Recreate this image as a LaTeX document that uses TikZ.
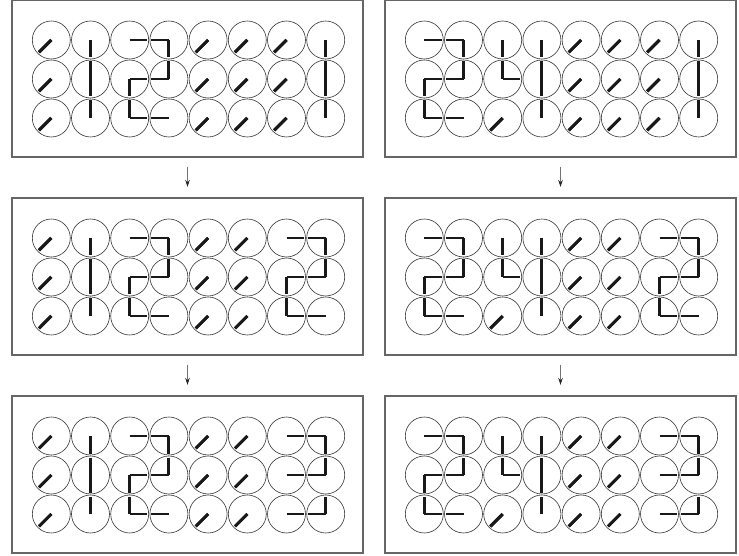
\documentclass[tikz,border=0pt]{standalone}
\usepackage{tikz}
\usetikzlibrary{arrows.meta, positioning, calc}
\tikzset{
  panel/.style={rectangle, draw=black!60, line width=1.1pt, outer sep=0pt, minimum width=351pt, minimum height=157pt, inner sep=0pt},
  clock/.style={draw=black!80, line width=0.6pt},
  hand/.style={draw=black!90, line width=2.9pt},
  arrow/.style={-{Stealth[length=7pt, width=4.5pt, color=black!85]}, draw=black!55, line width=0.8pt, shorten <=10pt, shorten >=11pt},
}
% one panel: 8 x 3 clocks, two hand angles per clock
\newcommand{\clockgrid}[2]{%
  \foreach \ha/\hb [count=\i from 0] in {#2} {
    \pgfmathtruncatemacro{\col}{mod(\i,8)}
    \pgfmathtruncatemacro{\row}{\i/8}
    \coordinate (#1c\i) at ($(#1.north west)+(39.3+39.2*\col,-40-39*\row)$);
    \draw[clock] (#1c\i) circle[radius=19pt];
    \draw[hand] (#1c\i) -- ++(\ha:17.5pt);
    \draw[hand] (#1c\i) -- ++(\hb:17.5pt);
  }%
}

\begin{document}
\begin{tikzpicture}[x=1pt, y=1pt]
\useasboundingbox (0,0) rectangle (739,555);
\node[panel] (p1) at (187.5,476.5) {};
\node[panel, right=22pt of p1] (p2) {};
\node[panel, below=41pt of p1] (p3) {};
\node[panel, right=22pt of p3] (p4) {};
\node[panel, below=41pt of p3] (p5) {};
\node[panel, right=22pt of p5] (p6) {};
\draw[arrow] (p1.south) -- (p3.north);
\draw[arrow] (p3.south) -- (p5.north);
\draw[arrow] (p2.south) -- (p4.north);
\draw[arrow] (p4.south) -- (p6.north);
\clockgrid{p1}{225/225,270/270,0/0,180/270,225/225,225/225,225/225,270/270,
 225/225,90/270,0/270,180/90,225/225,225/225,225/225,90/270,
 225/225,90/90,90/0,180/180,225/225,225/225,225/225,90/90}
\clockgrid{p2}{0/0,180/270,270/270,270/270,225/225,225/225,225/225,270/270,
 0/270,180/90,90/0,90/270,225/225,225/225,225/225,90/270,
 90/0,180/180,225/225,90/90,225/225,225/225,225/225,90/90}
\clockgrid{p3}{225/225,270/270,0/0,180/270,225/225,225/225,0/0,180/270,
 225/225,90/270,0/270,180/90,225/225,225/225,0/270,180/90,
 225/225,90/90,90/0,180/180,225/225,225/225,90/0,180/180}
\clockgrid{p4}{0/0,180/270,270/270,270/270,225/225,225/225,0/0,180/270,
 0/270,180/90,90/0,90/270,225/225,225/225,0/270,180/90,
 90/0,180/180,225/225,90/90,225/225,225/225,90/0,180/180}
\clockgrid{p5}{225/225,270/270,0/0,180/270,225/225,225/225,0/0,180/270,
 225/225,90/270,0/270,180/90,225/225,225/225,0/0,180/90,
 225/225,90/90,90/0,180/180,225/225,225/225,0/0,180/90}
\clockgrid{p6}{0/0,180/270,270/270,270/270,225/225,225/225,0/0,180/270,
 0/270,180/90,90/0,90/270,225/225,225/225,0/0,180/90,
 90/0,180/180,225/225,90/90,225/225,225/225,0/0,180/90}
\end{tikzpicture}
\end{document}
